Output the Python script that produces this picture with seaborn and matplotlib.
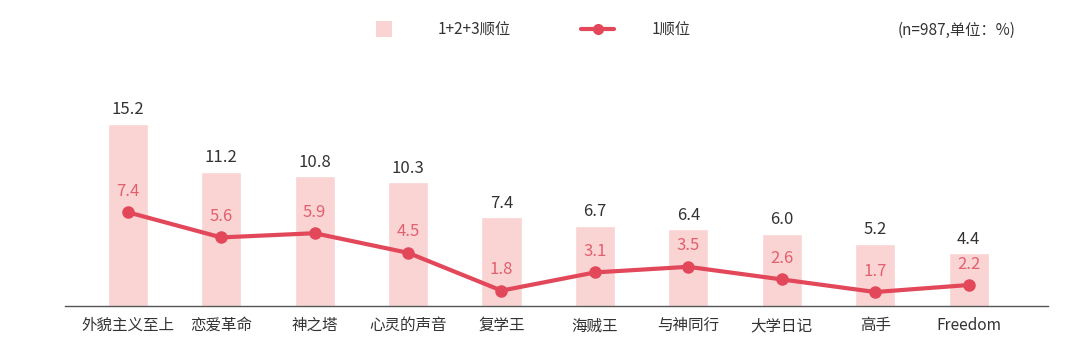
import numpy as np
import pandas as pd
import matplotlib
matplotlib.use("Agg")
import matplotlib.pyplot as plt
import seaborn as sns
from matplotlib.lines import Line2D

categories = ["外貌主义至上", "恋爱革命", "神之塔", "心灵的声音", "复学王",
              "海贼王", "与神同行", "大学日记", "高手", "Freedom"]
top3 = [15.2, 11.2, 10.8, 10.3, 7.4, 6.7, 6.4, 6.0, 5.2, 4.4]
first = [7.4, 5.6, 5.9, 4.5, 1.8, 3.1, 3.5, 2.6, 1.7, 2.2]
legend_labels = ["1+2+3顺位", "1顺位"]
note = "(n=987,单位：%)"

sns.set_theme(style="white")
plt.rcParams['font.family'] = ['Noto Sans CJK SC', 'DejaVu Sans']

bar_color = "#FAD3D3"
line_color = "#E2475A"
label_line_color = "#E0606E"
text_color = "#333333"

df = pd.DataFrame({"cat": categories, "top3": top3, "first": first,
                   "pos": np.arange(len(categories))})

fig = plt.figure(figsize=(10.8, 3.56), dpi=100)
ax = fig.add_axes([0.060, 0.1404, 0.910, 0.6909])

sns.barplot(data=df, x="cat", y="top3", color=bar_color, width=0.43,
            saturation=1, ax=ax)
ax.set_xlim(-0.674, 9.845)
ax.set_ylim(0, 20.5)
for i, v in enumerate(top3):
    ax.annotate(f"{v:.1f}", (i, v), xytext=(0, 4), textcoords="offset points",
                ha="center", va="bottom", fontsize=12, color=text_color)

ax2 = ax.twinx()
sns.lineplot(data=df, x="pos", y="first", color=line_color, linewidth=3,
             marker="o", markersize=9, markeredgewidth=0, ax=ax2)
ax2.set_ylim(0.7, 18.27)
ax2.set_xlim(-0.674, 9.845)
for i, v in enumerate(first):
    ax2.annotate(f"{v:.1f}", (i, v), xytext=(0, 9), textcoords="offset points",
                 ha="center", va="bottom", fontsize=12, color=label_line_color)

for a in (ax, ax2):
    a.set_xlabel("")
    a.set_ylabel("")
    a.set_yticks([])
    for s in ["top", "left", "right", "bottom"]:
        a.spines[s].set_visible(False)
ax.spines["bottom"].set_visible(True)
ax.spines["bottom"].set_color("#555555")
ax.spines["bottom"].set_linewidth(1.0)
ax.tick_params(axis="x", length=0, labelsize=11.2, labelcolor=text_color, pad=8)
ax2.tick_params(axis="x", length=0, labelbottom=False)

handles = [Line2D([0], [0], color=bar_color, linestyle="none", marker="s",
                  markersize=12, markeredgewidth=0),
           Line2D([0], [0], color=line_color, linewidth=3, marker="o",
                  markersize=8, markeredgewidth=0)]
fig.legend(handles, legend_labels, loc="center left",
           bbox_to_anchor=(0.340, 0.916), ncol=2, frameon=False,
           fontsize=11, handlelength=2.2, borderpad=0, borderaxespad=0,
           columnspacing=4.6, handletextpad=2.4, labelcolor=text_color)
fig.text(0.94, 0.916, note, ha="right", va="center", fontsize=11,
         color=text_color)

fig.savefig("out.png", dpi=100)
